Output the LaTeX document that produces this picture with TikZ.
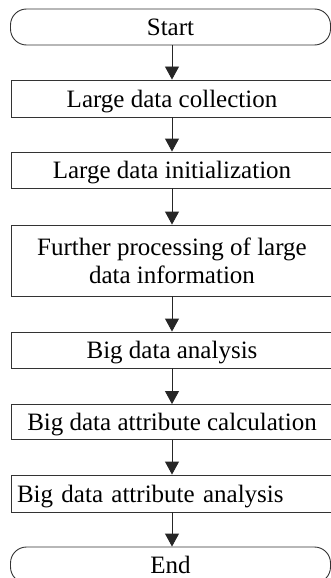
\documentclass[tikz,border=0pt]{standalone}
\usepackage{fontspec}
\setmainfont{Liberation Serif}
\usetikzlibrary{arrows.meta}
\begin{document}
\begin{tikzpicture}[x=1pt,y=1pt,
  box/.style={draw=black!80, line width=0.9pt, minimum width=322pt, minimum height=36pt,
    inner sep=0pt, font=\fontsize{25}{28}\selectfont, align=center},
  oneline/.style={text height=17pt, text depth=0pt},
  term/.style={box, oneline, rounded corners=16pt, minimum width=320pt},
  arr/.style={draw=black!85, line width=0.9pt, -{Triangle[length=13pt,width=14pt]}}]
\useasboundingbox (0,0) rectangle (331,-578);
\node[term] (start) at (170.5,-27) {Start};
\node[box, oneline, minimum height=37pt] (b1) at (172,-98.5) {Large data collection};
\node[box, oneline] (b2) at (172,-170) {Large data initialization};
\node[box, minimum height=71pt] (b3) at (172,-260.5) {Further processing of large\\data information};
\node[box, oneline] (b4) at (172,-350) {Big data analysis};
\node[box, oneline, minimum height=35pt] (b5) at (172,-422) {Big data attribute calculation};
\node[box, oneline, minimum height=37pt, text width=310pt, align=left, inner xsep=6pt] (b6) at (172,-493.5) {Big data attribute analysis};
\node[term] (end) at (170.5,-565) {End};
\draw[arr] (start.south -| b1.north) -- (b1.north);
\draw[arr] (b1.south) -- (b2.north);
\draw[arr] (b2.south) -- (b3.north);
\draw[arr] (b3.south) -- (b4.north);
\draw[arr] (b4.south) -- (b5.north);
\draw[arr] (b5.south) -- (b6.north);
\draw[arr] (b6.south) -- (end.north -| b6.south);
\end{tikzpicture}
\end{document}
